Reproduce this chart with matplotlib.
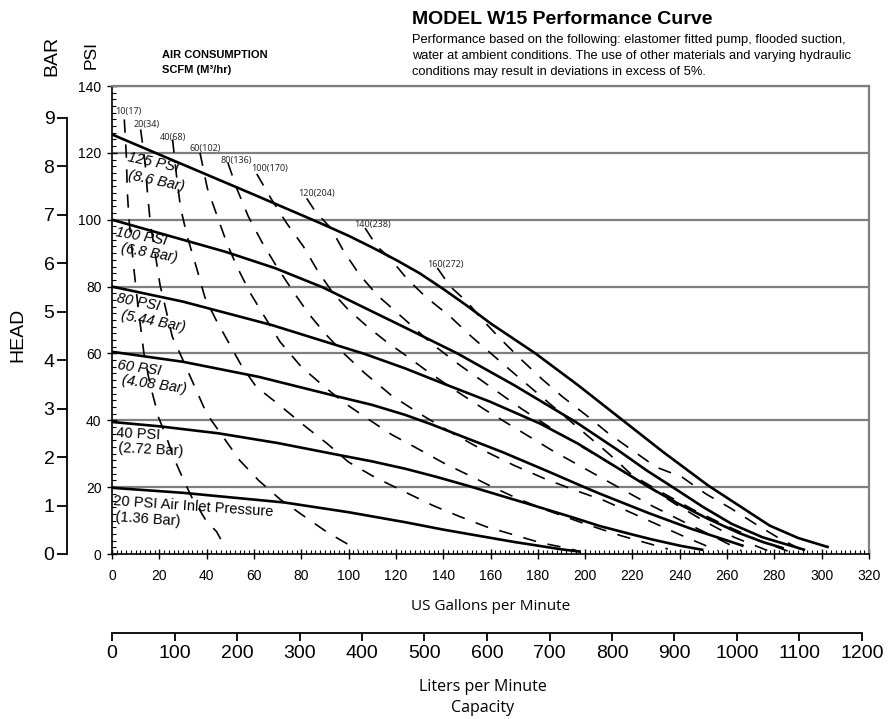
import numpy as np
import matplotlib
matplotlib.use("Agg")
import matplotlib.pyplot as plt
from matplotlib.ticker import MultipleLocator

# pressure curves (US gpm, head psi)
p125_gpm = [0, 20, 40, 60, 88, 100, 110, 120, 130, 140, 150, 160, 179, 197, 215, 233, 252, 265, 278, 290, 303]
p125_psi = [125.5, 119.5, 113.5, 107.5, 99, 95.2, 91.7, 88, 84, 79.3, 74.3, 69, 60, 50.5, 40.5, 30.5, 20.5, 14.5, 8.5, 4.8, 2]
p100_gpm = [0, 20, 48, 69, 89, 113, 124, 146, 170, 196, 214, 226, 237, 250, 262, 275, 293]
p100_psi = [100, 96, 90.4, 85.5, 79.8, 71.5, 67.7, 60, 50.5, 39.5, 31, 25, 20, 14, 9, 5, 1.2]
p80_gpm = [0, 30, 67.5, 107, 124, 140, 160, 181, 197, 212, 227, 239, 252, 265, 275, 284]
p80_psi = [80, 75.5, 68.5, 59.8, 55.5, 51, 45.5, 39, 33, 26.5, 20, 15.2, 10.5, 6.3, 3.6, 1.7]
p60_gpm = [0, 30, 62, 96, 110, 124, 135, 145, 165, 185, 198, 206, 227, 245, 258, 267]
p60_psi = [60.5, 57.5, 53, 47, 44.6, 41.6, 38.8, 36, 30.5, 24.5, 20.5, 18.1, 12.2, 7.5, 4.5, 2.4]
p40_gpm = [0, 20, 45, 70, 96, 110, 124, 137, 150, 175, 195, 206, 219, 228, 240, 250]
p40_psi = [39.5, 38.2, 36.1, 33.2, 29.6, 27.7, 25.5, 23.1, 20.5, 15.2, 10.9, 8.4, 6, 4.4, 2.5, 1.2]
p20_gpm = [0, 30, 73, 100, 124, 140, 157, 170, 180, 190, 198]
p20_psi = [19.8, 18.3, 15.4, 12.5, 9.5, 7.3, 5.2, 3.6, 2.5, 1.4, 0.7]

pressure_curves = [(p125_gpm, p125_psi), (p100_gpm, p100_psi), (p80_gpm, p80_psi),
                   (p60_gpm, p60_psi), (p40_gpm, p40_psi), (p20_gpm, p20_psi)]

# air consumption lines SCFM
a10_gpm = [5.2, 6, 6.5, 7.2, 9.3, 11, 13.5, 16, 18.2, 19.6, 23, 26, 28.7, 31, 33.7, 37.2, 40, 44.2, 47.3]
a10_psi = [130, 120, 108, 100, 85, 74, 60, 51, 45, 41, 35, 29, 24.6, 21, 17, 13, 9.7, 6.7, 2.7]
a20_gpm = [12.1, 14, 15, 16.2, 18, 20.3, 22.5, 25.5, 30, 35, 40, 47, 54, 62, 71, 81, 91, 99, 104]
a20_psi = [127, 117, 108, 99, 91, 80.5, 74, 65, 58, 50, 42, 35, 28, 22, 16.4, 11.4, 6.5, 3.2, 1.2]
a40_gpm = [25.6, 27.3, 29, 31.8, 35.7, 39.3, 44, 49.5, 55, 61, 70, 82, 91, 100, 111, 124,
           136, 147, 158, 170, 181, 192, 198]
a40_psi = [124, 113, 103.5, 95, 85.7, 76.7, 70, 63, 56, 50, 45, 38, 33, 27.5, 23, 18.5,
           14.4, 11.2, 8.2, 5.7, 3.4, 1.8, 0.7]
a60_gpm = [37.2, 40.3, 44.5, 48.7, 53, 58.5, 64.5, 71, 80, 89, 98, 108, 118, 129, 140, 151,
           161, 172, 183, 200, 215, 225, 235]
a60_psi = [120, 109.4, 101, 92.7, 85.7, 78, 71, 63.5, 56, 50.5, 45.3, 40.5, 35.8, 31.6, 27.3,
           23.5, 20, 16.4, 13.3, 9, 5.5, 3.5, 1.5]
a80_gpm = [49, 52.7, 57.6, 63.3, 69.6, 76.6, 83, 90, 98, 107, 118, 130, 143, 157, 170, 183,
           196, 208, 219, 230, 241, 251, 256]
a80_psi = [117, 109.4, 101, 93.4, 86, 78.5, 72, 66, 60, 54, 47.5, 42, 36.5, 31, 26.5, 22.5,
           19, 16, 12.5, 9, 5.5, 2.5, 1]
a100_gpm = [61.2, 67.5, 73.8, 80.9, 87.2, 93.5, 100, 108, 116, 124, 134, 145, 158, 172, 186,
            200, 214, 228, 242, 255, 266]
a100_psi = [113.7, 106, 99, 92, 84.4, 78, 73, 68, 63.5, 59.5, 54.3, 49, 43, 37, 31, 25.5,
            20, 14.5, 9.5, 5, 1]
a120_gpm = [82.3, 86, 92.5, 98, 104.5, 112, 124, 135, 147, 160, 173, 187, 200, 213, 226, 238,
            250, 263, 279]
a120_psi = [106.4, 102.4, 97.5, 90.5, 83.7, 77.5, 70, 63, 56.5, 50, 43.5, 37, 31.5, 26, 20.5,
            15, 10, 5, 0.5]
a140_gpm = [107, 112, 117, 124.5, 132.5, 143, 152, 161, 170, 180, 190, 200, 210, 220, 232, 245,
            258, 272, 287]
a140_psi = [97.5, 92, 88.9, 82.5, 77, 71, 65, 59.5, 54, 48, 42, 36, 30, 23.5, 18.6, 13.5,
            9, 4.5, 0.5]
a160_gpm = [137.5, 143, 150, 156, 164, 172.5, 181.5, 190.5, 200.5, 210, 220, 230, 241, 251,
            261.5, 271.5, 282, 290, 294]
a160_psi = [85.6, 80, 75.5, 70.5, 64.5, 58.5, 52.5, 47, 41.5, 36, 31, 26, 23, 18, 13.7, 9.2,
            4.7, 1.8, 0.3]

air_lines = [(a10_gpm, a10_psi), (a20_gpm, a20_psi), (a40_gpm, a40_psi), (a60_gpm, a60_psi),
             (a80_gpm, a80_psi), (a100_gpm, a100_psi), (a120_gpm, a120_psi),
             (a140_gpm, a140_psi), (a160_gpm, a160_psi)]
air_labels = ["10(17)", "20(34)", "40(68)", "60(102)", "80(136)", "100(170)",
              "120(204)", "140(238)", "160(272)"]
air_label_gpm = [6.9, 14.5, 25.8, 39.3, 52.3, 66.6, 86.6, 110.1, 141]
air_label_psi = [132.3, 128.6, 124.5, 121.4, 117.6, 115.4, 107.7, 98.7, 86.7]

# pressure labels
plabel_top = ["125 PSI", "100 PSI", "80 PSI", "60 PSI", "40 PSI", "20 PSI Air Inlet Pressure"]
plabel_bot = ["(8.6 Bar)", "(6.8 Bar)", "(5.44 Bar)", "(4.08 Bar)", "(2.72 Bar)", "(1.36 Bar)"]
plabel_top_xy = [(6.9, 118.8), (1.6, 96.2), (2.0, 76.5), (2.4, 56.5), (1.6, 36.3), (0.5, 15.9)]
plabel_bot_xy = [(6.9, 113.4), (3.8, 91.4), (3.8, 71.5), (4.1, 52.0), (2.7, 31.6), (1.6, 11.0)]
plabel_rot = [-12, -10, -11, -8, -3, -4]
plabel_style = ["italic", "italic", "italic", "italic", "normal", "normal"]

psi_ticks = [0, 20, 40, 60, 80, 100, 120, 140]
bar_ticks = [0, 1, 2, 3, 4, 5, 6, 7, 8, 9]
gpm_ticks = list(range(0, 321, 20))
lpm_ticks = list(range(0, 1201, 100))

ARIAL = "Liberation Sans"

W, H = 889, 719
fig = plt.figure(figsize=(W / 100, H / 100), dpi=100)

L, R, B, T = 112, 869, 554, 86
ax = fig.add_axes([L / W, 1 - B / H, (R - L) / W, (B - T) / H])
ax.set_xlim(0, 320)
ax.set_ylim(0, 140)

for g in psi_ticks[1:]:
    ax.axhline(g, color="#7f7f7f", lw=1.6, zorder=1)

for gx, gy in pressure_curves:
    ax.plot(gx, gy, color="black", lw=1.9, zorder=3, solid_capstyle="butt",
            solid_joinstyle="round")

for gx, gy in air_lines:
    ax.plot(gx, gy, color="black", lw=1.2, linestyle=(0, (8, 7)), zorder=2)

for s, x, y in zip(air_labels, air_label_gpm, air_label_psi):
    ax.text(x, y, s, fontsize=6.5, color="#2b2b2b", ha="center", va="center",
            family="Noto Sans", zorder=4)

for t, b, (xt, yt), (xb, yb), r, st in zip(plabel_top, plabel_bot, plabel_top_xy,
                                          plabel_bot_xy, plabel_rot, plabel_style):
    ax.text(xt, yt, t, fontsize=10.5, rotation=r, rotation_mode="anchor", ha="left",
            va="center", style=st, family=ARIAL, zorder=5)
    ax.text(xb, yb, b, fontsize=10.5, rotation=r, rotation_mode="anchor", ha="left",
            va="center", style=st, family=ARIAL, zorder=5)

for side in ["top", "right"]:
    ax.spines[side].set_color("#7f7f7f")
    ax.spines[side].set_linewidth(1.6)
for side in ["left", "bottom"]:
    ax.spines[side].set_color("black")
    ax.spines[side].set_linewidth(1.2)

ax.set_xticks(gpm_ticks)
ax.set_yticks(psi_ticks)
ax.xaxis.set_minor_locator(MultipleLocator(2))
ax.yaxis.set_minor_locator(MultipleLocator(2))
ax.tick_params(which="major", direction="inout", length=7, width=1)
ax.tick_params(which="minor", direction="in", length=3, width=0.8)
ax.tick_params(axis="x", which="major", pad=7, labelsize=10)
ax.tick_params(axis="y", which="major", pad=4, labelsize=10)
for lab in ax.get_xticklabels() + ax.get_yticklabels():
    lab.set_family(ARIAL)

# BAR scale
axb = fig.add_axes([67 / W, 1 - B / H, 0.01, (B - T) / H])
axb.set_ylim(0, 140 / 14.5)
axb.set_xticks([])
axb.set_yticks(bar_ticks)
axb.patch.set_visible(False)
for side in ["top", "right", "bottom"]:
    axb.spines[side].set_visible(False)
axb.spines["left"].set_bounds(0, 9)
axb.spines["left"].set_linewidth(1.3)
axb.tick_params(axis="y", direction="out", length=7, width=1.3, pad=2, labelsize=14)
for lab in axb.get_yticklabels():
    lab.set_family(ARIAL)

# liters scale
axl = fig.add_axes([L / W, 1 - 633 / H, (R - L) / W, 0.001])
axl.set_xlim(0, 320 * 3.785)
axl.set_yticks([])
axl.set_xticks(lpm_ticks)
axl.patch.set_visible(False)
for side in ["top", "right", "left"]:
    axl.spines[side].set_visible(False)
axl.spines["bottom"].set_bounds(0, 1200)
axl.spines["bottom"].set_linewidth(1.3)
axl.tick_params(axis="x", direction="out", length=6, width=1.3, pad=3, labelsize=14)
for lab in axl.get_xticklabels():
    lab.set_family(ARIAL)

# texts
fig.text(52 / W, 1 - 56 / H, "BAR", rotation=90, fontsize=14, ha="center", va="center",
         family=ARIAL)
fig.text(91 / W, 1 - 55 / H, "PSI", rotation=90, fontsize=12.5, ha="center", va="center",
         family=ARIAL)
fig.text(18 / W, 1 - 335 / H, "HEAD", rotation=90, fontsize=14, ha="center", va="center",
         family=ARIAL)
fig.text(162 / W, 1 - 55 / H, "AIR CONSUMPTION", fontsize=8, fontweight="bold",
         ha="left", va="center", family=ARIAL)
fig.text(162 / W, 1 - 70 / H, "SCFM (M³/hr)", fontsize=8, fontweight="bold",
         ha="left", va="center", family=ARIAL)
fig.text(412 / W, 1 - 19 / H, "MODEL W15 Performance Curve", fontsize=14,
         fontweight="bold", ha="left", va="center", family=ARIAL)
sub = ["Performance based on the following: elastomer fitted pump, flooded suction,",
       "water at ambient conditions. The use of other materials and varying hydraulic",
       "conditions may result in deviations in excess of 5%."]
for i, s in enumerate(sub):
    fig.text(412 / W, 1 - (40 + 16 * i) / H, s, fontsize=9.3, ha="left", va="center",
             family=ARIAL)
fig.text(490.5 / W, 1 - 606 / H, "US Gallons per Minute", fontsize=11, ha="center",
         va="center", family="Open Sans")
fig.text(483 / W, 1 - 687 / H, "Liters per Minute", fontsize=11.5, ha="center",
         va="center", family="Open Sans")
fig.text(483 / W, 1 - 708 / H, "Capacity", fontsize=11.5, ha="center", va="center",
         family="Open Sans")

fig.savefig("out.png", dpi=100)
